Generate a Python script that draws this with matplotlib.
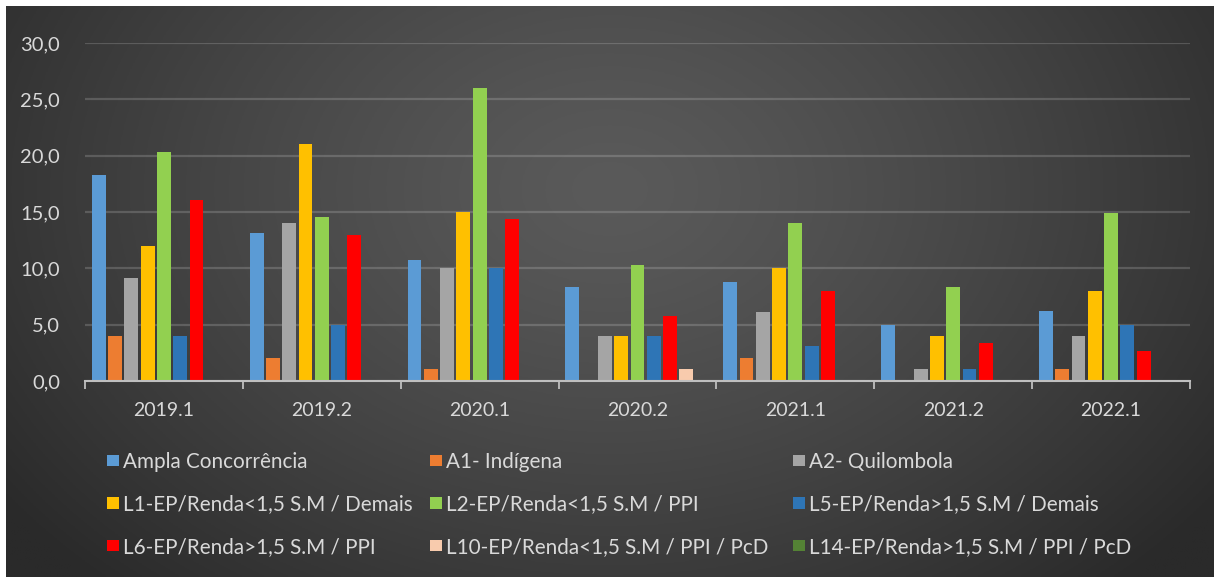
import numpy as np
import matplotlib
matplotlib.use("Agg")
import matplotlib.pyplot as plt

plt.rcParams['font.family'] = ['Lato', 'DejaVu Sans']

categories = ["2019.1", "2019.2", "2020.1", "2020.2", "2021.1", "2021.2", "2022.1"]
series_names = [
    "Ampla Concorrência",
    "A1- Indígena",
    "A2- Quilombola",
    "L1-EP/Renda<1,5 S.M / Demais",
    "L2-EP/Renda<1,5 S.M / PPI",
    "L5-EP/Renda>1,5 S.M / Demais",
    "L6-EP/Renda>1,5 S.M / PPI",
    "L10-EP/Renda<1,5 S.M / PPI / PcD",
    "L14-EP/Renda>1,5 S.M / PPI / PcD",
]
ampla = [18.3, 13.1, 10.7, 8.3, 8.8, 5.0, 6.2]
a1 = [4.0, 2.0, 1.1, 0.0, 2.0, 0.0, 1.1]
a2 = [9.1, 14.0, 10.0, 4.0, 6.1, 1.1, 4.0]
l1 = [12.0, 21.0, 15.0, 4.0, 10.0, 4.0, 8.0]
l2 = [20.3, 14.6, 26.0, 10.3, 14.0, 8.3, 14.9]
l5 = [4.0, 5.0, 10.0, 4.0, 3.1, 1.1, 5.0]
l6 = [16.1, 13.0, 14.4, 5.8, 8.0, 3.4, 2.7]
l10 = [0.0, 0.0, 0.0, 1.1, 0.0, 0.0, 0.0]
l14 = [0.0, 0.0, 0.0, 0.0, 0.0, 0.0, 0.0]
yticks = [0, 5, 10, 15, 20, 25, 30]
ytick_labels = ["0,0", "5,0", "10,0", "15,0", "20,0", "25,0", "30,0"]

series = [ampla, a1, a2, l1, l2, l5, l6, l10, l14]
colors = ["#5B9BD5", "#ED7D31", "#A5A5A5", "#FFC000", "#92D050",
          "#2E75B6", "#FF0000", "#F8CBAD", "#548235"]

W, H = 1214, 577
fig = plt.figure(figsize=(W / 100, H / 100), dpi=100, facecolor="white")

# background gradient panel
bg = fig.add_axes([6 / W, 0, 1 - 6 / W, 1 - 6 / H], zorder=-10)
ny, nx = 200, 400
yy, xx = np.mgrid[0:1:ny * 1j, 0:1:nx * 1j]
r = np.sqrt(((xx - 0.5) / 0.62) ** 2 + ((yy - 0.32) / 0.95) ** 2)
r = np.clip(r, 0, 1) ** 1.3
c0 = np.array([0x5a, 0x5a, 0x5a]) / 255
c1 = np.array([0x2a, 0x2a, 0x2a]) / 255
img = c0[None, None, :] * (1 - r[..., None]) + c1[None, None, :] * r[..., None]
bg.imshow(img, aspect="auto", extent=[0, 1, 1, 0])
bg.set_axis_off()

ax = fig.add_axes([85 / W, 1 - 381 / H, (1190 - 85) / W, (381 - 43) / H])
ax.set_facecolor("none")

x = np.arange(len(categories))
pitch = 16.3 / 158
bw = 14.0 / 158
handles = []
for i, (vals, col) in enumerate(zip(series, colors)):
    b = ax.bar(x + (i - 4) * pitch, vals, width=bw, color=col, zorder=3,
               label=series_names[i])
    handles.append(b)

ax.set_xlim(-0.5, len(categories) - 0.5)
ax.set_ylim(0, 30)
ax.set_yticks(yticks)
ax.set_yticklabels(ytick_labels)
ax.set_xticks(x)
ax.set_xticklabels(categories)
ax.set_xticks(np.arange(-0.5, len(categories), 1.0), minor=True)
ax.tick_params(axis="x", which="major", length=0, pad=15, labelsize=14, labelcolor="#d9d9d9")
ax.tick_params(axis="x", which="minor", length=6, width=1.3, color="#bfbfbf", direction="out")
ax.tick_params(axis="y", length=0, pad=18, labelsize=14.5, labelcolor="#d9d9d9")
for s in ["top", "right", "left"]:
    ax.spines[s].set_visible(False)
ax.spines["bottom"].set_color("#bfbfbf")
ax.spines["bottom"].set_linewidth(1.5)
ax.spines["bottom"].set_zorder(4)
ax.grid(axis="y", color="#ffffff", alpha=0.17, linewidth=1.6, zorder=0)

# legend in three columns
col_x = [107 / W, 430 / W, 793 / W]
for c in range(3):
    idx = [c, c + 3, c + 6]
    leg = fig.legend([handles[k] for k in idx], [series_names[k] for k in idx],
                     loc="upper left", bbox_to_anchor=(col_x[c], 1 - 452 / H),
                     frameon=False, fontsize=14.9, labelcolor="#d9d9d9",
                     handlelength=0.58, handleheight=0.48, handletextpad=0.2,
                     labelspacing=1.08, borderpad=0, borderaxespad=0)

fig.savefig("out.png", dpi=100, facecolor="white")
